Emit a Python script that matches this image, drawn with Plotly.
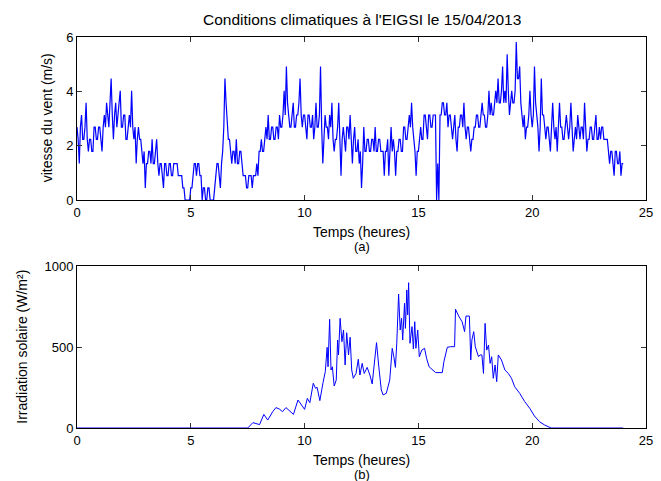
import plotly.graph_objects as go

# ---------------- data ----------------
# wind speed read in mph steps (anemometer resolution 1 mph = 0.44704 m/s),
# sampled every 0.05 h from 0 h to 24 h (20 values per hour)
wind_mph = [
    6, 5, 3, 6, 7, 5, 5, 6, 8, 5, 4, 5, 5, 4, 4, 6, 6, 5, 5, 6,          # 0 h
    6, 5, 4, 6, 7, 6, 8, 7, 6, 8, 10, 7, 5, 7, 8, 6, 7, 8, 9, 6,         # 1 h
    6, 7, 7, 5, 5, 6, 7, 6, 9, 6, 5, 6, 3, 5, 6, 5, 5, 4, 3, 4,          # 2 h
    1, 3, 3, 4, 4, 3, 5, 3, 3, 4, 5, 3, 2, 3, 3, 2, 1, 3, 3, 2,          # 3 h
    2, 3, 3, 2, 2, 3, 3, 3, 3, 2, 2, 2, 2, 1, 1, 0, 0, 0, 0, 0,          # 4 h
    1, 1, 2, 3, 3, 2, 3, 3, 2, 2, 0, 1, 1, 0, 0, 1, 1, 0, 0, 0,          # 5 h
    0, 1, 2, 3, 3, 2, 1, 3, 4, 6, 10, 8, 6, 5, 5, 4, 3, 4, 4, 3,         # 6 h
    5, 3, 3, 4, 4, 3, 2, 2, 2, 1, 1, 2, 2, 2, 1, 2, 2, 2, 3, 2,          # 7 h
    4, 4, 5, 4, 4, 5, 6, 5, 7, 5, 5, 6, 6, 5, 5, 6, 6, 5, 7, 6,          # 8 h
    6, 7, 9, 7, 11, 8, 7, 6, 6, 7, 8, 6, 6, 7, 7, 8, 10, 7, 6, 7,        # 9 h
    7, 6, 5, 7, 7, 6, 6, 7, 5, 6, 8, 6, 6, 7, 11, 6, 3, 5, 7, 6,         # 10 h
    6, 5, 7, 6, 8, 5, 4, 5, 5, 6, 8, 5, 2, 5, 6, 5, 4, 6, 6, 5,          # 11 h
    7, 5, 3, 5, 6, 4, 4, 5, 3, 4, 1, 3, 6, 4, 4, 5, 5, 4, 4, 5,          # 12 h
    5, 4, 6, 4, 4, 5, 5, 4, 4, 4, 2, 4, 4, 5, 2, 4, 6, 4, 5, 4,          # 13 h
    2, 4, 4, 5, 5, 4, 4, 6, 6, 5, 5, 6, 7, 6, 8, 6, 5, 4, 2, 4,          # 14 h
    4, 5, 6, 5, 5, 7, 7, 6, 5, 7, 7, 6, 6, 7, 7, 7, 0, 3, 0, 7,          # 15 h
    7, 8, 8, 7, 7, 8, 6, 7, 7, 6, 5, 6, 7, 5, 4, 6, 6, 7, 7, 6,          # 16 h
    8, 6, 5, 6, 6, 5, 4, 5, 5, 6, 6, 7, 7, 6, 6, 7, 8, 7, 7, 6,          # 17 h
    6, 7, 9, 7, 8, 7, 7, 8, 9, 8, 10, 8, 8, 9, 11, 8, 9, 8, 12, 9,       # 18 h
    7, 8, 9, 8, 8, 9, 13, 10, 10, 11, 8, 7, 6, 7, 5, 6, 6, 7, 9, 7,      # 19 h
    6, 7, 11, 8, 7, 6, 4, 6, 10, 7, 7, 6, 5, 6, 6, 5, 4, 6, 8, 6,        # 20 h
    5, 6, 4, 6, 8, 6, 6, 5, 5, 6, 7, 6, 5, 6, 8, 6, 4, 5, 6, 5,          # 21 h
    7, 6, 5, 6, 6, 5, 8, 6, 4, 5, 5, 6, 6, 5, 5, 6, 7, 5, 5, 6,          # 22 h
    5, 6, 6, 5, 5, 5, 5, 4, 3, 4, 4, 3, 2, 4, 4, 3, 3, 4, 2, 3,          # 23 h
    3,                                                                   # 24 h
]
MPH_TO_MS = 0.44704
wind_speed = [v * MPH_TO_MS for v in wind_mph]
wind_time = [round(i * 0.05, 2) for i in range(len(wind_mph))]

# solar irradiation (W/m2) with its time stamps (h)
solar_time = [
    0, 7.5, 7.73, 8.02, 8.21, 8.38, 8.6, 8.74, 8.89, 9.03,
    9.18, 9.32, 9.51, 9.71, 9.86, 10.0, 10.12, 10.23, 10.38, 10.48,
    10.55, 10.67, 10.81, 10.91, 10.99, 11.03, 11.1, 11.16, 11.22, 11.3,
    11.39, 11.45, 11.49, 11.56, 11.64, 11.71, 11.78, 11.85, 11.93, 12.0,
    12.07, 12.14, 12.26, 12.36, 12.43, 12.53, 12.62, 12.75, 12.87, 12.97,
    13.08, 13.16, 13.26, 13.37, 13.45, 13.59, 13.74, 13.85, 13.92, 13.99,
    14.05, 14.13, 14.2, 14.26, 14.31, 14.39, 14.43, 14.49, 14.53, 14.57,
    14.63, 14.72, 14.78, 14.84, 14.89, 14.97, 15.04, 15.15, 15.27, 15.36,
    15.47, 15.62, 15.76, 16.05, 16.12, 16.27, 16.41, 16.59, 16.63, 16.77,
    16.92, 17.03, 17.09, 17.24, 17.3, 17.35, 17.43, 17.5, 17.57, 17.64,
    17.71, 17.79, 17.86, 17.93, 18.0, 18.08, 18.15, 18.22, 18.29, 18.37,
    18.44, 18.51, 18.65, 18.8, 18.95, 19.09, 19.23, 19.45, 19.67, 19.89,
    20.1, 20.32, 20.54, 20.75, 20.83, 24.0,
]
solar_irr = [
    0, 0, 33, 21, 84, 49, 101, 126, 117, 101,
    126, 107, 84, 173, 142, 115, 183, 156, 276, 245,
    251, 169, 280, 348, 498, 378, 671, 358, 378, 259,
    296, 543, 451, 677, 533, 605, 389, 588, 451, 560,
    358, 307, 337, 424, 327, 399, 337, 374, 327, 272,
    420, 527, 378, 235, 204, 214, 296, 492, 440, 374,
    523, 827, 605, 677, 543, 770, 615, 852, 698, 897,
    523, 626, 488, 656, 492, 605, 440, 481, 492, 430,
    378, 358, 342, 342, 409, 498, 502, 502, 733, 691,
    656, 595, 691, 691, 420, 543, 595, 502, 471, 440,
    451, 451, 337, 646, 481, 512, 399, 440, 307, 389,
    286, 451, 420, 358, 337, 307, 255, 214, 163, 122,
    74, 39, 19, 4, 0, 0,
]

x_ticks = [0, 5, 10, 15, 20, 25]
wind_ticks = [0, 2, 4, 6]
solar_ticks = [0, 500, 1000]

title_text = "Conditions climatiques à l'EIGSI le 15/04/2013"
xlabel_text = "Temps (heures)"
wind_label = "vitesse du vent (m/s)"
solar_label = "Irradiation solaire (W/m²)"

# ---------------- figure ----------------
W, H = 661, 481
ML, MR, MT, MB = 77, 8, 37, 53
PH = H - MT - MB


def py(y_px):
    return (H - MB - y_px) / PH


def px(x_px):
    return (x_px - ML) / (W - ML - MR)


FONT = "Liberation Sans, Arial, Helvetica, sans-serif"

fig = go.Figure()
fig.add_trace(go.Scatter(x=wind_time, y=wind_speed, mode="lines",
                         line=dict(color="#0000ff", width=1.2),
                         xaxis="x", yaxis="y", showlegend=False))
fig.add_trace(go.Scatter(x=solar_time, y=solar_irr, mode="lines",
                         line=dict(color="#0000ff", width=1),
                         xaxis="x2", yaxis="y2", showlegend=False))

axis_common = dict(showline=True, linecolor="black", linewidth=1, mirror="ticks",
                   ticks="inside", ticklen=5, tickcolor="#333", tickwidth=1,
                   showgrid=False, zeroline=False,
                   tickfont=dict(family=FONT, size=13, color="black"))

fig.update_layout(
    width=W, height=H,
    margin=dict(l=ML, r=MR, t=MT, b=MB),
    paper_bgcolor="white", plot_bgcolor="white",
    font=dict(family=FONT, color="black"),
    xaxis=dict(domain=[0, 1], range=[0, 25], tickvals=x_ticks, anchor="y", **axis_common),
    yaxis=dict(domain=[py(200), 1], range=[0, 6], tickvals=wind_ticks, anchor="x", **axis_common),
    xaxis2=dict(domain=[0, 1], range=[0, 25], tickvals=x_ticks, anchor="y2", **axis_common),
    yaxis2=dict(domain=[0, py(266)], range=[0, 1000], tickvals=solar_ticks, anchor="x2", **axis_common),
)

ann_font = dict(family=FONT, size=14, color="black")
annotations = [
    dict(text=title_text, x=0.5, y=py(19), font=dict(family=FONT, size=15.5, color="black")),
    dict(text=xlabel_text, x=0.5, y=py(232), font=ann_font),
    dict(text="(a)", x=0.5, y=py(246), font=dict(family=FONT, size=13, color="black")),
    dict(text=xlabel_text, x=0.5, y=py(460), font=ann_font),
    dict(text="(b)", x=0.5, y=py(474), font=dict(family=FONT, size=13, color="black")),
    dict(text=wind_label, x=px(47), y=py(118), textangle=-90, font=ann_font),
    dict(text=solar_label, x=px(21), y=py(347), textangle=-90, font=ann_font),
]
for a in annotations:
    fig.add_annotation(xref="paper", yref="paper", showarrow=False,
                       xanchor="center", yanchor="middle", **a)

fig.write_html("out.html", config={"displayModeBar": False},
               post_script="document.body.style.margin='0px';document.body.style.overflow='hidden';")
